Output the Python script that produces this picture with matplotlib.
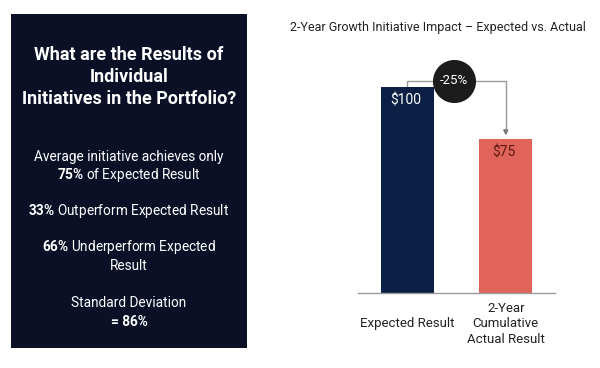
import matplotlib
matplotlib.use('Agg')
import matplotlib.pyplot as plt
from matplotlib.patches import Rectangle

plt.rcParams['font.family'] = ['Roboto', 'DejaVu Sans']
plt.rcParams['mathtext.fontset'] = 'custom'
plt.rcParams['mathtext.rm'] = 'Roboto'
plt.rcParams['mathtext.bf'] = 'Roboto:bold'

# chart data
categories = ['Expected Result', '2-Year\nCumulative\nActual Result']
values = [100, 75]
value_labels = ['\\$100', '\\$75']
change_label = '-25%'
chart_title = '2-Year Growth Initiative Impact \u2013 Expected vs. Actual'

# left panel text
headline = 'What are the Results of\nIndividual\nInitiatives in the Portfolio?'
stat_lines = [
    'Average initiative achieves only',
    r'$\mathbf{75\%}$ of Expected Result',
    r'$\mathbf{33\%}$ Outperform Expected Result',
    r'$\mathbf{66\%}$ Underperform Expected',
    'Result',
    'Standard Deviation',
    '= 86%',
]
stat_weights = ['normal'] * 6 + ['bold']
stat_y = [157, 175, 211, 247, 266, 303, 322]  # pixel rows from top

W, H = 600, 368
fig = plt.figure(figsize=(6, 3.68), dpi=100)
fig.patch.set_facecolor('white')

# dark info panel
fig.patches.append(Rectangle((11 / W, 1 - 348 / H), 236 / W, 334 / H,
                             transform=fig.transFigure, facecolor='#0b1027',
                             edgecolor='none', zorder=0))
fig.text(129 / W, 1 - 77 / H, headline, ha='center', va='center',
         color='white', fontsize=13, fontweight='bold', linespacing=1.3)
for line, w, y in zip(stat_lines, stat_weights, stat_y):
    fig.text(129 / W, 1 - y / H, line, ha='center', va='center',
             color='white', fontsize=9.8, fontweight=w)

# bar chart
ax = fig.add_axes([358 / W, 1 - 293 / H, 197 / W, 257.5 / H])
x = list(range(len(values)))
ax.bar(x, values, width=0.54, color=['#0c1f45', '#e0645a'], zorder=2)
ax.set_xlim(-0.5, 1.5)
ax.set_ylim(0, 125)
for s in ['top', 'left', 'right']:
    ax.spines[s].set_visible(False)
ax.spines['bottom'].set_color('#9a9a9a')
ax.spines['bottom'].set_linewidth(1)
ax.set_yticks([])
ax.set_xticks(x)
ax.set_xticklabels(categories, fontsize=9.5, color='#222222', linespacing=1.25)
for lab in ax.get_xticklabels():
    lab.set_verticalalignment('center')
ax.tick_params(axis='x', length=0, pad=22)

label_colors = ['white', '#5c1a14']
for xi, v, lab, c in zip(x, values, value_labels, label_colors):
    ax.annotate(lab, xy=(xi, v), xytext=(-1, -10), textcoords='offset points',
                ha='center', va='center', fontsize=10, color=c, zorder=3)

# change bracket with arrow
top = values[0] + 3
ax.plot([x[0], x[0], x[1], x[1]], [values[0], top, top, values[1] + 3],
        color='#9a9a9a', lw=1, zorder=1)
ax.annotate('', xy=(x[1], values[1] + 1.5), xytext=(x[1], values[1] + 4),
            arrowprops=dict(arrowstyle='-|>', color='#777777', lw=1,
                            mutation_scale=7, shrinkA=0, shrinkB=0))
ax.scatter([0.477], [top], s=900, color='#1c1c1c', zorder=4, clip_on=False)
ax.text(0.477, top, change_label, ha='center', va='center', color='white',
        fontsize=9.5, zorder=5)

fig.text(438 / W, 1 - 28 / H, chart_title, ha='center', va='center',
         fontsize=9, color='#222222')

fig.savefig('out.png', dpi=100)
